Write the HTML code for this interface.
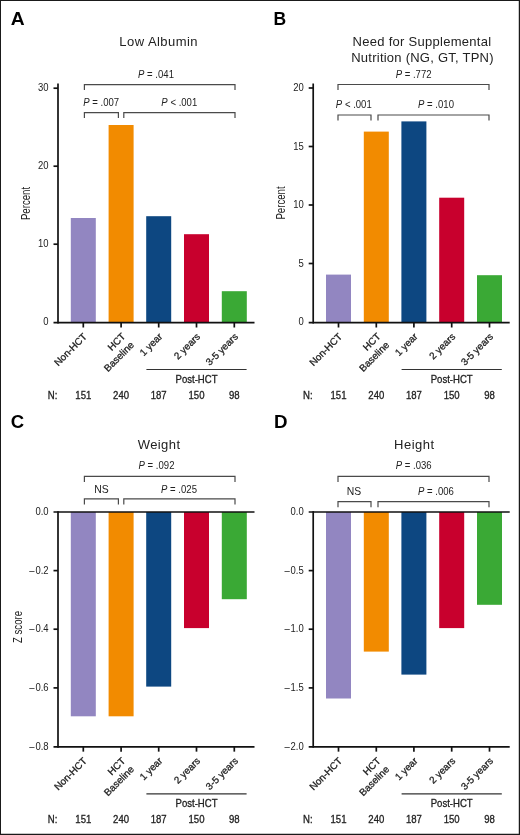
<!DOCTYPE html>
<html><head><meta charset="utf-8"><title>Figure</title>
<style>
html,body{margin:0;padding:0;background:#fff;}
body{width:520px;height:835px;overflow:hidden;}
svg{display:block;font-family:"Liberation Sans",sans-serif;will-change:transform;}
text.hv{stroke:#222;stroke-width:0.3px;}
</style></head><body>
<svg width="520" height="835" viewBox="0 0 520 835">
<rect x="0" y="0" width="520" height="835" fill="#fff"/>
<text transform="translate(10.70,25.40) scale(1.1,1)" font-size="17.5" font-weight="bold" fill="#000">A</text>
<text x="158.70" y="46.20" font-size="13" text-anchor="middle" fill="#222" letter-spacing="0.45">Low Albumin</text>
<text transform="translate(29.80,203.50) rotate(-90) scale(0.72,1)" font-size="13.4" text-anchor="middle" fill="#222">Percent</text>
<path d="M84.40 90.10V84.60H235.00V90.10" fill="none" stroke="#4a4a4a" stroke-width="1.2"/>
<text transform="translate(156.00,78.00) scale(0.92,1)" font-size="10.4" text-anchor="middle" fill="#222"><tspan font-style="italic">P</tspan> = .041</text>
<path d="M84.40 118.10V112.60H118.40V118.10" fill="none" stroke="#4a4a4a" stroke-width="1.2"/>
<text transform="translate(101.20,105.50) scale(0.92,1)" font-size="10.4" text-anchor="middle" fill="#222"><tspan font-style="italic">P</tspan> = .007</text>
<path d="M123.80 118.10V112.60H235.00V118.10" fill="none" stroke="#4a4a4a" stroke-width="1.2"/>
<text transform="translate(179.30,105.50) scale(0.92,1)" font-size="10.4" text-anchor="middle" fill="#222"><tspan font-style="italic">P</tspan> &lt; .001</text>
<rect x="70.80" y="218.00" width="25.0" height="104.70" fill="#9286c1"/>
<rect x="108.60" y="125.00" width="25.0" height="197.70" fill="#f28b00"/>
<rect x="146.20" y="216.20" width="25.0" height="106.50" fill="#0d4781"/>
<rect x="184.00" y="234.20" width="25.0" height="88.50" fill="#c8002d"/>
<rect x="221.80" y="291.20" width="25.0" height="31.50" fill="#3aa935"/>
<line x1="58.00" y1="83.50" x2="58.00" y2="323.55" stroke="#111" stroke-width="1.7"/>
<line x1="53.50" y1="322.70" x2="254.50" y2="322.70" stroke="#111" stroke-width="1.7"/>
<line x1="53.50" y1="88.20" x2="58.00" y2="88.20" stroke="#111" stroke-width="1.7"/>
<text transform="translate(48.60,91.30) scale(0.95,1)" font-size="10.0" text-anchor="end" fill="#222">30</text>
<line x1="53.50" y1="166.20" x2="58.00" y2="166.20" stroke="#111" stroke-width="1.7"/>
<text transform="translate(48.60,169.30) scale(0.95,1)" font-size="10.0" text-anchor="end" fill="#222">20</text>
<line x1="53.50" y1="244.20" x2="58.00" y2="244.20" stroke="#111" stroke-width="1.7"/>
<text transform="translate(48.60,247.30) scale(0.95,1)" font-size="10.0" text-anchor="end" fill="#222">10</text>
<text transform="translate(48.60,325.30) scale(0.95,1)" font-size="10.0" text-anchor="end" fill="#222">0</text>
<line x1="83.30" y1="322.70" x2="83.30" y2="327.50" stroke="#111" stroke-width="1.7"/>
<line x1="121.10" y1="322.70" x2="121.10" y2="327.50" stroke="#111" stroke-width="1.7"/>
<line x1="158.70" y1="322.70" x2="158.70" y2="327.50" stroke="#111" stroke-width="1.7"/>
<line x1="196.50" y1="322.70" x2="196.50" y2="327.50" stroke="#111" stroke-width="1.7"/>
<line x1="234.30" y1="322.70" x2="234.30" y2="327.50" stroke="#111" stroke-width="1.7"/>
<text transform="translate(87.60,337.20) rotate(-45)" class="hv" font-size="9.8" text-anchor="end" fill="#222">Non-HCT</text>
<text transform="translate(126.10,337.10) rotate(-45)" class="hv" font-size="9.8" text-anchor="end" fill="#222"><tspan x="0" y="0">HCT</tspan><tspan x="0" y="12.1">Baseline</tspan></text>
<text transform="translate(163.00,337.20) rotate(-45)" class="hv" font-size="9.8" text-anchor="end" fill="#222">1 year</text>
<text transform="translate(200.80,337.20) rotate(-45)" class="hv" font-size="9.8" text-anchor="end" fill="#222">2 years</text>
<text transform="translate(238.60,337.20) rotate(-45)" class="hv" font-size="9.8" text-anchor="end" fill="#222">3-5 years</text>
<line x1="146.40" y1="369.50" x2="246.60" y2="369.50" stroke="#333" stroke-width="1.2"/>
<text class="hv" transform="translate(196.50,382.70) scale(0.93,1)" font-size="10.3" text-anchor="middle" fill="#222">Post-HCT</text>
<text class="hv" transform="translate(47.80,398.50) scale(0.93,1)" font-size="10.3" text-anchor="start" fill="#222">N:</text>
<text class="hv" transform="translate(83.30,398.50) scale(0.93,1)" font-size="10.3" text-anchor="middle" fill="#222">151</text>
<text class="hv" transform="translate(121.10,398.50) scale(0.93,1)" font-size="10.3" text-anchor="middle" fill="#222">240</text>
<text class="hv" transform="translate(158.70,398.50) scale(0.93,1)" font-size="10.3" text-anchor="middle" fill="#222">187</text>
<text class="hv" transform="translate(196.50,398.50) scale(0.93,1)" font-size="10.3" text-anchor="middle" fill="#222">150</text>
<text class="hv" transform="translate(234.30,398.50) scale(0.93,1)" font-size="10.3" text-anchor="middle" fill="#222">98</text>
<text transform="translate(273.40,25.40) scale(1.0,1)" font-size="17.5" font-weight="bold" fill="#000">B</text>
<text x="422.00" y="46.30" font-size="13" text-anchor="middle" fill="#222" letter-spacing="0.28">Need for Supplemental</text>
<text x="422.50" y="61.50" font-size="13" text-anchor="middle" fill="#222" letter-spacing="0.24">Nutrition (NG, GT, TPN)</text>
<text transform="translate(284.80,203.00) rotate(-90) scale(0.72,1)" font-size="13.4" text-anchor="middle" fill="#222">Percent</text>
<path d="M338.00 90.00V84.50H489.00V90.00" fill="none" stroke="#4a4a4a" stroke-width="1.2"/>
<text transform="translate(413.60,78.30) scale(0.92,1)" font-size="10.4" text-anchor="middle" fill="#222"><tspan font-style="italic">P</tspan> = .772</text>
<path d="M338.00 120.50V115.00H371.00V120.50" fill="none" stroke="#4a4a4a" stroke-width="1.2"/>
<text transform="translate(353.80,108.20) scale(0.92,1)" font-size="10.4" text-anchor="middle" fill="#222"><tspan font-style="italic">P</tspan> &lt; .001</text>
<path d="M378.00 120.50V115.00H489.00V120.50" fill="none" stroke="#4a4a4a" stroke-width="1.2"/>
<text transform="translate(436.00,108.30) scale(0.92,1)" font-size="10.4" text-anchor="middle" fill="#222"><tspan font-style="italic">P</tspan> = .010</text>
<rect x="326.00" y="274.60" width="25.0" height="48.10" fill="#9286c1"/>
<rect x="363.80" y="131.60" width="25.0" height="191.10" fill="#f28b00"/>
<rect x="401.40" y="121.40" width="25.0" height="201.30" fill="#0d4781"/>
<rect x="439.20" y="197.70" width="25.0" height="125.00" fill="#c8002d"/>
<rect x="477.00" y="275.20" width="25.0" height="47.50" fill="#3aa935"/>
<line x1="313.20" y1="83.50" x2="313.20" y2="323.55" stroke="#111" stroke-width="1.7"/>
<line x1="308.70" y1="322.70" x2="509.70" y2="322.70" stroke="#111" stroke-width="1.7"/>
<line x1="308.70" y1="88.00" x2="313.20" y2="88.00" stroke="#111" stroke-width="1.7"/>
<text transform="translate(303.80,91.10) scale(0.95,1)" font-size="10.0" text-anchor="end" fill="#222">20</text>
<line x1="308.70" y1="146.50" x2="313.20" y2="146.50" stroke="#111" stroke-width="1.7"/>
<text transform="translate(303.80,149.60) scale(0.95,1)" font-size="10.0" text-anchor="end" fill="#222">15</text>
<line x1="308.70" y1="205.00" x2="313.20" y2="205.00" stroke="#111" stroke-width="1.7"/>
<text transform="translate(303.80,208.10) scale(0.95,1)" font-size="10.0" text-anchor="end" fill="#222">10</text>
<line x1="308.70" y1="263.50" x2="313.20" y2="263.50" stroke="#111" stroke-width="1.7"/>
<text transform="translate(303.80,266.60) scale(0.95,1)" font-size="10.0" text-anchor="end" fill="#222">5</text>
<text transform="translate(303.80,325.10) scale(0.95,1)" font-size="10.0" text-anchor="end" fill="#222">0</text>
<line x1="338.50" y1="322.70" x2="338.50" y2="327.50" stroke="#111" stroke-width="1.7"/>
<line x1="376.30" y1="322.70" x2="376.30" y2="327.50" stroke="#111" stroke-width="1.7"/>
<line x1="413.90" y1="322.70" x2="413.90" y2="327.50" stroke="#111" stroke-width="1.7"/>
<line x1="451.70" y1="322.70" x2="451.70" y2="327.50" stroke="#111" stroke-width="1.7"/>
<line x1="489.50" y1="322.70" x2="489.50" y2="327.50" stroke="#111" stroke-width="1.7"/>
<text transform="translate(342.80,337.20) rotate(-45)" class="hv" font-size="9.8" text-anchor="end" fill="#222">Non-HCT</text>
<text transform="translate(381.30,337.10) rotate(-45)" class="hv" font-size="9.8" text-anchor="end" fill="#222"><tspan x="0" y="0">HCT</tspan><tspan x="0" y="12.1">Baseline</tspan></text>
<text transform="translate(418.20,337.20) rotate(-45)" class="hv" font-size="9.8" text-anchor="end" fill="#222">1 year</text>
<text transform="translate(456.00,337.20) rotate(-45)" class="hv" font-size="9.8" text-anchor="end" fill="#222">2 years</text>
<text transform="translate(493.80,337.20) rotate(-45)" class="hv" font-size="9.8" text-anchor="end" fill="#222">3-5 years</text>
<line x1="401.60" y1="369.50" x2="501.80" y2="369.50" stroke="#333" stroke-width="1.2"/>
<text class="hv" transform="translate(451.70,382.70) scale(0.93,1)" font-size="10.3" text-anchor="middle" fill="#222">Post-HCT</text>
<text class="hv" transform="translate(303.00,398.50) scale(0.93,1)" font-size="10.3" text-anchor="start" fill="#222">N:</text>
<text class="hv" transform="translate(338.50,398.50) scale(0.93,1)" font-size="10.3" text-anchor="middle" fill="#222">151</text>
<text class="hv" transform="translate(376.30,398.50) scale(0.93,1)" font-size="10.3" text-anchor="middle" fill="#222">240</text>
<text class="hv" transform="translate(413.90,398.50) scale(0.93,1)" font-size="10.3" text-anchor="middle" fill="#222">187</text>
<text class="hv" transform="translate(451.70,398.50) scale(0.93,1)" font-size="10.3" text-anchor="middle" fill="#222">150</text>
<text class="hv" transform="translate(489.50,398.50) scale(0.93,1)" font-size="10.3" text-anchor="middle" fill="#222">98</text>
<text transform="translate(10.80,428.30) scale(1.06,1)" font-size="17.5" font-weight="bold" fill="#000">C</text>
<text x="159.10" y="449.00" font-size="13" text-anchor="middle" fill="#222" letter-spacing="0.4">Weight</text>
<text transform="translate(22.20,627.00) rotate(-90) scale(0.72,1)" font-size="13.4" text-anchor="middle" fill="#222">Z score</text>
<path d="M84.40 481.90V476.40H235.00V481.90" fill="none" stroke="#4a4a4a" stroke-width="1.2"/>
<text transform="translate(156.50,469.40) scale(0.92,1)" font-size="10.4" text-anchor="middle" fill="#222"><tspan font-style="italic">P</tspan> = .092</text>
<path d="M84.40 504.40V498.90H118.40V504.40" fill="none" stroke="#4a4a4a" stroke-width="1.2"/>
<text x="101.40" y="492.50" font-size="10.4" text-anchor="middle" fill="#222" >NS</text>
<path d="M123.80 504.40V498.90H235.00V504.40" fill="none" stroke="#4a4a4a" stroke-width="1.2"/>
<text transform="translate(179.00,492.50) scale(0.92,1)" font-size="10.4" text-anchor="middle" fill="#222"><tspan font-style="italic">P</tspan> = .025</text>
<rect x="70.80" y="512.00" width="25.0" height="204.30" fill="#9286c1"/>
<rect x="108.60" y="512.00" width="25.0" height="204.30" fill="#f28b00"/>
<rect x="146.20" y="512.00" width="25.0" height="174.60" fill="#0d4781"/>
<rect x="184.00" y="512.00" width="25.0" height="116.10" fill="#c8002d"/>
<rect x="221.80" y="512.00" width="25.0" height="87.20" fill="#3aa935"/>
<line x1="53.50" y1="512.00" x2="254.50" y2="512.00" stroke="#111" stroke-width="1.7"/>
<line x1="58.00" y1="511.15" x2="58.00" y2="747.70" stroke="#111" stroke-width="1.7"/>
<line x1="53.50" y1="746.85" x2="254.50" y2="746.85" stroke="#111" stroke-width="1.7"/>
<text transform="translate(48.60,515.10) scale(0.95,1)" font-size="10.0" text-anchor="end" fill="#222">0.0</text>
<line x1="53.50" y1="570.60" x2="58.00" y2="570.60" stroke="#111" stroke-width="1.7"/>
<text transform="translate(48.60,573.70) scale(0.95,1)" font-size="10.0" text-anchor="end" fill="#222">&#8211;<tspan dx="0.9">0.2</tspan></text>
<line x1="53.50" y1="629.20" x2="58.00" y2="629.20" stroke="#111" stroke-width="1.7"/>
<text transform="translate(48.60,632.30) scale(0.95,1)" font-size="10.0" text-anchor="end" fill="#222">&#8211;<tspan dx="0.9">0.4</tspan></text>
<line x1="53.50" y1="687.90" x2="58.00" y2="687.90" stroke="#111" stroke-width="1.7"/>
<text transform="translate(48.60,691.00) scale(0.95,1)" font-size="10.0" text-anchor="end" fill="#222">&#8211;<tspan dx="0.9">0.6</tspan></text>
<text transform="translate(48.60,749.60) scale(0.95,1)" font-size="10.0" text-anchor="end" fill="#222">&#8211;<tspan dx="0.9">0.8</tspan></text>
<line x1="83.30" y1="746.85" x2="83.30" y2="751.65" stroke="#111" stroke-width="1.7"/>
<line x1="121.10" y1="746.85" x2="121.10" y2="751.65" stroke="#111" stroke-width="1.7"/>
<line x1="158.70" y1="746.85" x2="158.70" y2="751.65" stroke="#111" stroke-width="1.7"/>
<line x1="196.50" y1="746.85" x2="196.50" y2="751.65" stroke="#111" stroke-width="1.7"/>
<line x1="234.30" y1="746.85" x2="234.30" y2="751.65" stroke="#111" stroke-width="1.7"/>
<text transform="translate(87.60,761.50) rotate(-45)" class="hv" font-size="9.8" text-anchor="end" fill="#222">Non-HCT</text>
<text transform="translate(126.10,761.40) rotate(-45)" class="hv" font-size="9.8" text-anchor="end" fill="#222"><tspan x="0" y="0">HCT</tspan><tspan x="0" y="12.1">Baseline</tspan></text>
<text transform="translate(163.00,761.50) rotate(-45)" class="hv" font-size="9.8" text-anchor="end" fill="#222">1 year</text>
<text transform="translate(200.80,761.50) rotate(-45)" class="hv" font-size="9.8" text-anchor="end" fill="#222">2 years</text>
<text transform="translate(238.60,761.50) rotate(-45)" class="hv" font-size="9.8" text-anchor="end" fill="#222">3-5 years</text>
<line x1="146.40" y1="793.80" x2="246.60" y2="793.80" stroke="#333" stroke-width="1.2"/>
<text class="hv" transform="translate(196.50,807.00) scale(0.93,1)" font-size="10.3" text-anchor="middle" fill="#222">Post-HCT</text>
<text class="hv" transform="translate(47.80,822.80) scale(0.93,1)" font-size="10.3" text-anchor="start" fill="#222">N:</text>
<text class="hv" transform="translate(83.30,822.80) scale(0.93,1)" font-size="10.3" text-anchor="middle" fill="#222">151</text>
<text class="hv" transform="translate(121.10,822.80) scale(0.93,1)" font-size="10.3" text-anchor="middle" fill="#222">240</text>
<text class="hv" transform="translate(158.70,822.80) scale(0.93,1)" font-size="10.3" text-anchor="middle" fill="#222">187</text>
<text class="hv" transform="translate(196.50,822.80) scale(0.93,1)" font-size="10.3" text-anchor="middle" fill="#222">150</text>
<text class="hv" transform="translate(234.30,822.80) scale(0.93,1)" font-size="10.3" text-anchor="middle" fill="#222">98</text>
<text transform="translate(273.90,428.30) scale(1.07,1)" font-size="17.5" font-weight="bold" fill="#000">D</text>
<text x="414.40" y="449.00" font-size="13" text-anchor="middle" fill="#222" letter-spacing="0.5">Height</text>
<path d="M338.00 481.90V476.40H489.00V481.90" fill="none" stroke="#4a4a4a" stroke-width="1.2"/>
<text transform="translate(413.70,469.40) scale(0.92,1)" font-size="10.4" text-anchor="middle" fill="#222"><tspan font-style="italic">P</tspan> = .036</text>
<path d="M338.00 507.20V501.70H371.00V507.20" fill="none" stroke="#4a4a4a" stroke-width="1.2"/>
<text x="354.00" y="494.80" font-size="10.4" text-anchor="middle" fill="#222" >NS</text>
<path d="M378.00 507.20V501.70H489.00V507.20" fill="none" stroke="#4a4a4a" stroke-width="1.2"/>
<text transform="translate(435.90,494.80) scale(0.92,1)" font-size="10.4" text-anchor="middle" fill="#222"><tspan font-style="italic">P</tspan> = .006</text>
<rect x="326.00" y="512.00" width="25.0" height="186.50" fill="#9286c1"/>
<rect x="363.80" y="512.00" width="25.0" height="139.60" fill="#f28b00"/>
<rect x="401.40" y="512.00" width="25.0" height="162.60" fill="#0d4781"/>
<rect x="439.20" y="512.00" width="25.0" height="116.10" fill="#c8002d"/>
<rect x="477.00" y="512.00" width="25.0" height="92.80" fill="#3aa935"/>
<line x1="308.70" y1="512.00" x2="509.70" y2="512.00" stroke="#111" stroke-width="1.7"/>
<line x1="313.20" y1="511.15" x2="313.20" y2="747.70" stroke="#111" stroke-width="1.7"/>
<line x1="308.70" y1="746.85" x2="509.70" y2="746.85" stroke="#111" stroke-width="1.7"/>
<text transform="translate(303.80,515.10) scale(0.95,1)" font-size="10.0" text-anchor="end" fill="#222">0.0</text>
<line x1="308.70" y1="570.60" x2="313.20" y2="570.60" stroke="#111" stroke-width="1.7"/>
<text transform="translate(303.80,573.70) scale(0.95,1)" font-size="10.0" text-anchor="end" fill="#222">&#8211;<tspan dx="0.9">0.5</tspan></text>
<line x1="308.70" y1="629.20" x2="313.20" y2="629.20" stroke="#111" stroke-width="1.7"/>
<text transform="translate(303.80,632.30) scale(0.95,1)" font-size="10.0" text-anchor="end" fill="#222">&#8211;<tspan dx="0.9">1.0</tspan></text>
<line x1="308.70" y1="687.90" x2="313.20" y2="687.90" stroke="#111" stroke-width="1.7"/>
<text transform="translate(303.80,691.00) scale(0.95,1)" font-size="10.0" text-anchor="end" fill="#222">&#8211;<tspan dx="0.9">1.5</tspan></text>
<text transform="translate(303.80,749.60) scale(0.95,1)" font-size="10.0" text-anchor="end" fill="#222">&#8211;<tspan dx="0.9">2.0</tspan></text>
<line x1="338.50" y1="746.85" x2="338.50" y2="751.65" stroke="#111" stroke-width="1.7"/>
<line x1="376.30" y1="746.85" x2="376.30" y2="751.65" stroke="#111" stroke-width="1.7"/>
<line x1="413.90" y1="746.85" x2="413.90" y2="751.65" stroke="#111" stroke-width="1.7"/>
<line x1="451.70" y1="746.85" x2="451.70" y2="751.65" stroke="#111" stroke-width="1.7"/>
<line x1="489.50" y1="746.85" x2="489.50" y2="751.65" stroke="#111" stroke-width="1.7"/>
<text transform="translate(342.80,761.50) rotate(-45)" class="hv" font-size="9.8" text-anchor="end" fill="#222">Non-HCT</text>
<text transform="translate(381.30,761.40) rotate(-45)" class="hv" font-size="9.8" text-anchor="end" fill="#222"><tspan x="0" y="0">HCT</tspan><tspan x="0" y="12.1">Baseline</tspan></text>
<text transform="translate(418.20,761.50) rotate(-45)" class="hv" font-size="9.8" text-anchor="end" fill="#222">1 year</text>
<text transform="translate(456.00,761.50) rotate(-45)" class="hv" font-size="9.8" text-anchor="end" fill="#222">2 years</text>
<text transform="translate(493.80,761.50) rotate(-45)" class="hv" font-size="9.8" text-anchor="end" fill="#222">3-5 years</text>
<line x1="401.60" y1="793.80" x2="501.80" y2="793.80" stroke="#333" stroke-width="1.2"/>
<text class="hv" transform="translate(451.70,807.00) scale(0.93,1)" font-size="10.3" text-anchor="middle" fill="#222">Post-HCT</text>
<text class="hv" transform="translate(303.00,822.80) scale(0.93,1)" font-size="10.3" text-anchor="start" fill="#222">N:</text>
<text class="hv" transform="translate(338.50,822.80) scale(0.93,1)" font-size="10.3" text-anchor="middle" fill="#222">151</text>
<text class="hv" transform="translate(376.30,822.80) scale(0.93,1)" font-size="10.3" text-anchor="middle" fill="#222">240</text>
<text class="hv" transform="translate(413.90,822.80) scale(0.93,1)" font-size="10.3" text-anchor="middle" fill="#222">187</text>
<text class="hv" transform="translate(451.70,822.80) scale(0.93,1)" font-size="10.3" text-anchor="middle" fill="#222">150</text>
<text class="hv" transform="translate(489.50,822.80) scale(0.93,1)" font-size="10.3" text-anchor="middle" fill="#222">98</text>
<path d="M0 0.5H520M0.5 0V835" stroke="#1a1a1a" stroke-width="1" fill="none"/>
<path d="M0 834.4H520M519.4 0V835" stroke="#1a1a1a" stroke-width="1.25" fill="none"/>
</svg>
</body></html>
